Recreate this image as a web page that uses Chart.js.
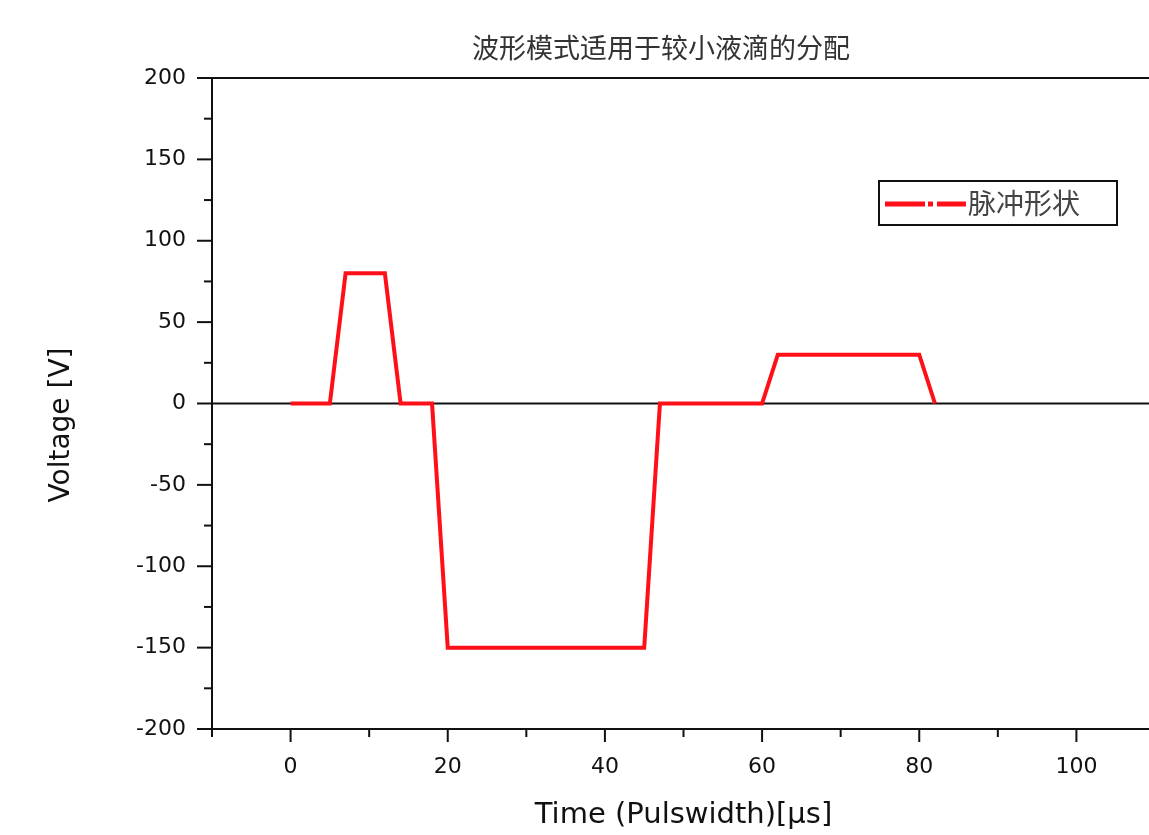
<!DOCTYPE html>
<html>
<head>
<meta charset="utf-8">
<script src="https://cdn.jsdelivr.net/npm/chart.js@4/dist/chart.umd.min.js"></script>
<style>
  html, body { margin: 0; padding: 0; background: #fff; overflow: hidden; }
</style>
</head>
<body>
<canvas id="pulse" width="1172" height="835"></canvas>
<script>
// Data
const timeUs = [0, 5, 7, 12, 14, 18, 20, 45, 47, 60, 62, 80, 82];
const voltage = [0, 0, 80, 80, 0, 0, -150, -150, 0, 0, 30, 30, 0];
const seriesName = '脉冲形状';
const chartTitle = '波形模式适用于较小液滴的分配';
const xTitle = 'Time (Pulswidth)[μs]';
const yTitle = 'Voltage [V]';

const ctx = document.getElementById('pulse').getContext('2d');

// Axis ticks, zero line, top border, titles and legend box
const decorations = {
  id: 'decorations',
  beforeDatasetsDraw(chart) {
    const c = chart.ctx, a = chart.chartArea;
    const y0 = chart.scales.y.getPixelForValue(0);
    c.save();
    c.strokeStyle = '#111';
    c.lineWidth = 2;
    c.beginPath();
    c.moveTo(a.left, y0);
    c.lineTo(a.right, y0);
    c.stroke();
    c.restore();
  },
  afterDraw(chart) {
    const c = chart.ctx, a = chart.chartArea;
    const xs = chart.scales.x, ys = chart.scales.y;
    c.save();
    c.strokeStyle = '#111';
    c.lineWidth = 2;
    // top border
    c.beginPath();
    c.moveTo(a.left, a.top);
    c.lineTo(a.right, a.top);
    c.stroke();
    // y ticks
    ys.ticks.forEach(t => {
      const p = ys.getPixelForValue(t.value);
      const len = t.value % 50 === 0 ? 15 : 8;
      c.beginPath();
      c.moveTo(a.left, p);
      c.lineTo(a.left - len, p);
      c.stroke();
    });
    // x ticks
    xs.ticks.forEach(t => {
      const p = xs.getPixelForValue(t.value);
      const len = t.value % 20 === 0 ? 13 : 8;
      c.beginPath();
      c.moveTo(p, a.bottom);
      c.lineTo(p, a.bottom + len);
      c.stroke();
    });
    // title
    c.fillStyle = '#333';
    c.font = '27px "Noto Sans CJK SC"';
    c.textAlign = 'center';
    c.textBaseline = 'middle';
    c.fillText(chartTitle, 661, 48);
    // y axis title
    c.save();
    c.translate(62, 425);
    c.rotate(-Math.PI / 2);
    c.fillStyle = '#111';
    c.font = '28px "DejaVu Sans"';
    c.fillText(yTitle, 0, 0);
    c.restore();
    // legend
    const lx = 879, ly = 181, lw = 238, lh = 44;
    c.strokeStyle = '#111';
    c.lineWidth = 2;
    c.strokeRect(lx, ly, lw, lh);
    const ds = chart.data.datasets[0];
    const my = ly + lh / 2 + 1;
    c.strokeStyle = ds.borderColor;
    c.lineWidth = 5;
    [[885, 925], [928, 933], [937, 966]].forEach(([s, e]) => {
      c.beginPath();
      c.moveTo(s, my);
      c.lineTo(e, my);
      c.stroke();
    });
    c.fillStyle = '#444';
    c.font = '28px "Noto Sans CJK SC"';
    c.textAlign = 'left';
    c.fillText(ds.label, 968, ly + lh / 2);
    c.restore();
  }
};

const tickFont = { family: '"DejaVu Sans"', size: 22 };

new Chart(ctx, {
  type: 'line',
  data: {
    datasets: [{
      label: seriesName,
      data: timeUs.map((t, i) => ({ x: t, y: voltage[i] })),
      borderColor: 'rgb(255, 16, 24)',
      borderWidth: 4,
      pointRadius: 0,
      tension: 0,
      fill: false
    }]
  },
  options: {
    responsive: false,
    animation: false,
    layout: { padding: { top: 78, right: 5, left: 0, bottom: 0 } },
    scales: {
      x: {
        type: 'linear',
        min: -10,
        max: 110,
        grid: { display: false },
        border: { display: true, color: '#111', width: 2 },
        ticks: {
          stepSize: 10,
          padding: 17,
          color: '#111',
          font: tickFont,
          maxRotation: 0,
          autoSkip: false,
          callback: v => (v % 20 === 0 && v >= 0 && v <= 100 ? v : '')
        },
        title: {
          display: true,
          text: xTitle,
          color: '#111',
          font: { family: '"DejaVu Sans"', size: 29 },
          padding: { top: 0, bottom: 2 }
        },
        afterFit: s => { s.height = 106; }
      },
      y: {
        min: -200,
        max: 200,
        grid: { display: false },
        border: { display: true, color: '#111', width: 2 },
        ticks: {
          stepSize: 25,
          padding: 18,
          color: '#111',
          font: tickFont,
          autoSkip: false,
          callback: v => (v % 50 === 0 ? v : '')
        },
        afterFit: s => { s.width = 212; }
      }
    },
    plugins: {
      legend: { display: false },
      title: { display: false },
      tooltip: { enabled: false }
    }
  },
  plugins: [decorations]
});
</script>
</body>
</html>
